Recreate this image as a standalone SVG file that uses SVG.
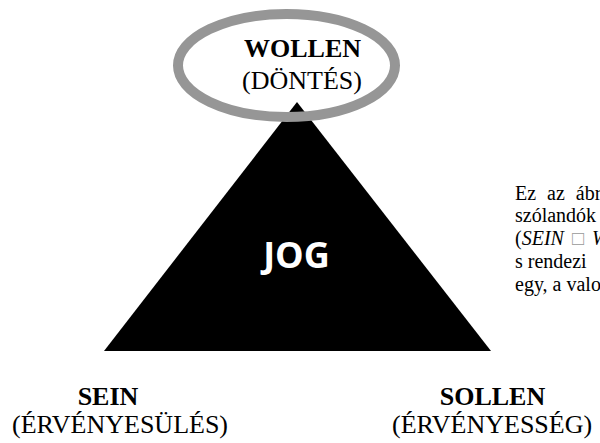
<svg xmlns="http://www.w3.org/2000/svg" width="600" height="443" viewBox="0 0 600 443">
<style>
.lbl{font-family:"Liberation Serif","Times New Roman",serif;font-size:26px;fill:#000}
.b{font-weight:bold}
.para{font-family:"Liberation Serif","Times New Roman",serif;font-size:20px;fill:#000}
.jog{font-family:"Open Sans","Noto Sans",sans-serif;font-weight:bold;font-size:36px;fill:#fff}
</style>
<rect width="600" height="443" fill="#fff"/>
<g id="jog">
<polygon points="297,102 104,351 491,351" fill="#000"/>
<text class="jog" x="296.5" y="268" text-anchor="middle">JOG</text>
</g>
<g id="wollen">
<ellipse cx="286.5" cy="65.5" rx="108.5" ry="51.5" fill="none" stroke="#969696" stroke-width="10"/>
<text class="lbl b" x="302.5" y="57" text-anchor="middle">WOLLEN</text>
<text class="lbl" x="302" y="89" text-anchor="middle">(DÖNTÉS)</text>
</g>
<g id="sein">
<text class="lbl b" x="108" y="405" text-anchor="middle">SEIN</text>
<text class="lbl" x="12" y="433">(ÉRVÉNYESÜLÉS)</text>
</g>
<g id="sollen">
<text class="lbl b" x="492.5" y="405" text-anchor="middle">SOLLEN</text>
<text class="lbl" x="392" y="433">(ÉRVÉNYESSÉG)</text>
</g>
<g id="paragraph" class="para">
<text x="515" y="200" word-spacing="6">Ez az ábr</text>
<text x="515" y="222">szólandók</text>
<text x="515" y="245" word-spacing="3">(<tspan font-style="italic">SEIN</tspan> <tspan fill="#999">□</tspan> <tspan font-style="italic">W</tspan></text>
<text x="515" y="268">s rendezi</text>
<text x="515" y="291">egy, a valo</text>
</g>
</svg>
